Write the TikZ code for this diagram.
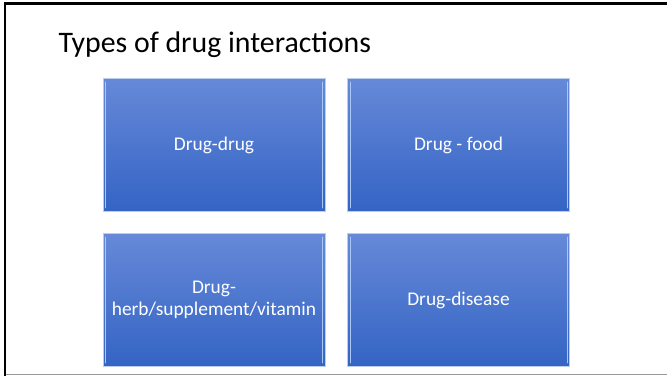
\documentclass[tikz,border=0pt]{standalone}
\usepackage{fontspec}
\setmainfont{Carlito}
\definecolor{boxtop}{RGB}{102,137,216}
\definecolor{boxmid}{RGB}{64,113,210}
\definecolor{boxbot}{RGB}{52,100,196}
\definecolor{boxrim}{RGB}{188,204,236}
\definecolor{boxshine}{RGB}{170,200,245}
\tikzset{
  typebox/.style={rectangle, draw=boxrim, line width=0.6pt, top color=boxtop, middle color=boxmid, bottom color=boxbot,
    minimum width=222pt, minimum height=133pt, inner sep=0pt, text=white, align=center,
    font=\fontsize{19.4}{22}\selectfont},
  shine/.style={boxshine, line width=1.1pt, line cap=round}
}
\begin{document}
\begin{tikzpicture}[x=1pt, y=-1pt]
    \useasboundingbox (0,0) rectangle (667,376);
    % slide frame
    \draw[line width=2.5pt] (5.2,376) -- (5.2,3.4) -- (667,3.4);
    \draw[gray!80, line width=1pt] (6,374.5) -- (667,374.5);

    \node[anchor=base west, font=\fontsize{29.8}{34}\selectfont] (title) at (55,52) {Types of drug interactions};

    \node[typebox] (dd)  at (214,145) {Drug-drug};
    \node[typebox] (df)  at (458.5,145) {Drug - food};
    \node[typebox] (dh)  at (214,300) {Drug-\\herb/supplement/vitamin};
    \node[typebox] (dis) at (458.5,300) {Drug-disease};

    % bevel highlights
    \foreach \b in {dd, df, dh, dis} {
      \draw[shine] ([xshift=3pt,yshift=-4pt]\b.north west) -- ([xshift=3pt,yshift=4pt]\b.south west);
      \draw[shine] ([xshift=-2.5pt,yshift=-4pt]\b.north east) -- ([xshift=-2.5pt,yshift=4pt]\b.south east);
    }
\end{tikzpicture}
\end{document}
